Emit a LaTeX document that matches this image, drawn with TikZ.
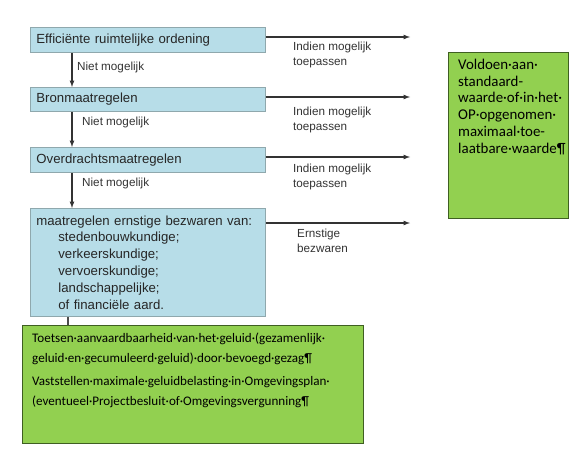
\documentclass[tikz,border=0pt]{standalone}
\usepackage{fontspec}
\setmainfont{Liberation Sans}
\newfontfamily\calibri{Carlito}
\usetikzlibrary{positioning}
\definecolor{boxblue}{HTML}{B7DDE8}
\definecolor{boxgray}{HTML}{8FA8AD}
\definecolor{boxgreen}{HTML}{92D050}
\definecolor{greenline}{HTML}{3F5F22}
\tikzset{
  bluebox/.style={draw=boxgray, fill=boxblue, line width=0.8pt, anchor=north west,
    minimum width=235pt, text width=223pt, inner xsep=6pt, inner ysep=0pt,
    align=left, text=black!85, font=\fontsize{13.2}{16.8}\selectfont},
  greenbox/.style={draw=greenline, fill=boxgreen, line width=1pt, anchor=north west, inner sep=0pt},
  greentext/.style={anchor=north west, inner sep=0pt, align=left},
  flow/.style={-latex, line width=1.2pt, black!80},
  lbl/.style={anchor=north west, align=left, inner sep=0pt,
    font=\fontsize{11.7}{14.5}\selectfont, black!80},
}
\begin{document}
\begin{tikzpicture}[x=1pt,y=-1pt]
\useasboundingbox (0,0) rectangle (576,460);

% steps
\node[bluebox, minimum height=25pt] (s1) at (30,27) {Efficiënte ruimtelijke ordening};
\node[bluebox, minimum height=24pt] (s2) at (30,87) {Bronmaatregelen};
\node[bluebox, minimum height=25pt] (s3) at (30,147) {Overdrachtsmaatregelen};
\node[bluebox, minimum height=108pt] (s4) at (30,208) {maatregelen ernstige bezwaren van:\\
\hspace*{22pt}stedenbouwkundige;\\
\hspace*{22pt}verkeerskundige;\\
\hspace*{22pt}vervoerskundige;\\
\hspace*{22pt}landschappelijke;\\
\hspace*{22pt}of financiële aard.};

% green boxes
\node[greenbox, minimum width=341pt, minimum height=118pt] (g1) at (22,325) {};
\node[greentext, font=\calibri\fontsize{13.1}{19.5}\selectfont] (g1t) at (32,333)
  {Toetsen·aanvaardbaarheid·van·het·geluid·(gezamenlijk·\\
   geluid·en·gecumuleerd·geluid)·door·bevoegd·gezag¶\\[4pt]
   Vaststellen·maximale·geluidbelasting·in·Omgevingsplan·\\
   (eventueel·Projectbesluit·of·Omgevingsvergunning¶};
\node[greenbox, minimum width=120pt, minimum height=166pt] (g2) at (448,52) {};
\node[greentext, font=\calibri\fontsize{14.9}{16.7}\selectfont] (g2t) at (458,59)
  {Voldoen·aan·\\ standaard-\\ waarde·of·in·het·\\ OP·opgenomen·\\ maximaal·toe-\\ laatbare·waarde¶};

% arrows down
\coordinate (v) at (72,0);
\draw[flow] (s1.south -| v) -- (s2.north -| v);
\draw[flow] (s2.south -| v) -- (s3.north -| v);
\draw[flow] (s3.south -| v) -- (s4.north -| v);
\coordinate (w) at (68,0);
\draw[line width=1.2pt, black!70] (s4.south -| w) -- (g1.north -| w);

\node[lbl] (n1) at (77,62) {Niet mogelijk};
\node[lbl] (n2) at (82,117) {Niet mogelijk};
\node[lbl] (n3) at (82,178) {Niet mogelijk};

% arrows right
\coordinate (o1) at (410,37);
\coordinate (o2) at (410,97);
\coordinate (o3) at (410,157);
\coordinate (o4) at (410,223);
\draw[flow] (s1.east |- o1) -- (o1);
\draw[flow] (s2.east |- o2) -- (o2);
\draw[flow] (s3.east |- o3) -- (o3);
\draw[flow] (s4.east |- o4) -- (o4);

\node[lbl] (i1) at (293,42) {Indien mogelijk\\toepassen};
\node[lbl] (i2) at (293,107) {Indien mogelijk\\toepassen};
\node[lbl] (i3) at (293,164) {Indien mogelijk\\toepassen};
\node[lbl] (i4) at (297,229) {Ernstige\\bezwaren};
\end{tikzpicture}
\end{document}
